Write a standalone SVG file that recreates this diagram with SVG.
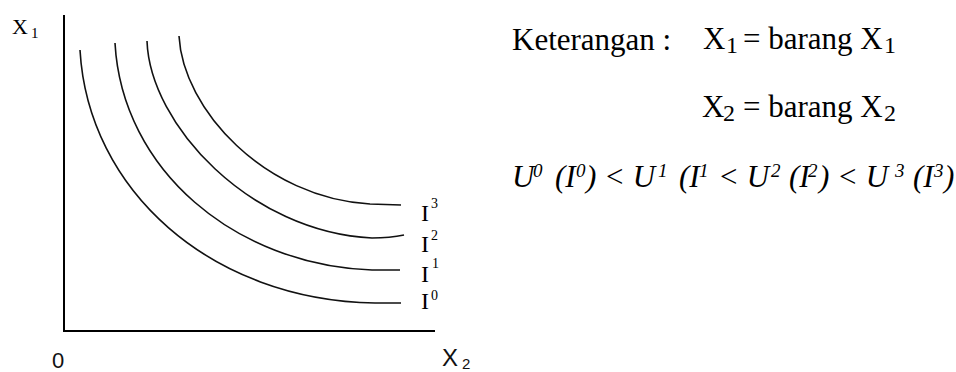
<svg xmlns="http://www.w3.org/2000/svg" width="956" height="372" viewBox="0 0 956 372">
<style>
.ax{stroke:#000;stroke-width:2;fill:none}
.cv{stroke:#111;stroke-width:1.6;fill:none}
.serif{font-family:"Liberation Serif","Times New Roman",serif;fill:#000}
.sans{font-family:"Liberation Sans",Arial,sans-serif;fill:#111}
.lbl{font-size:24px}
.sup{font-size:14px}
.big{font-size:31px}
.sub{font-size:24px}
.it{font-style:italic}
.fs{font-size:19px}
</style>
<rect width="956" height="372" fill="#fff"/>
<g id="axes">
<line class="ax" x1="64" y1="15" x2="64" y2="332"/>
<line class="ax" x1="63" y1="331" x2="435" y2="331"/>
<text class="serif" x="12" y="34" font-size="22">X<tspan font-size="15" x="31" y="38">1</tspan></text>
<text class="sans" x="52" y="368" font-size="22">0</text>
<text class="sans" x="442" y="366" font-size="24">X<tspan font-size="15" x="462" y="369">2</tspan></text>
</g>
<g id="curves">
<g id="I0"><path class="cv" d="M80,50 C88,190 210,300 375,303 L401,303"/>
<text class="serif lbl" x="421" y="309">I<tspan class="sup" x="431" y="300">0</tspan></text></g>
<g id="I1"><path class="cv" d="M115,43 C122,170 235,265 372,270 L400,270"/>
<text class="serif lbl" x="421" y="282">I<tspan class="sup" x="432" y="268">1</tspan></text></g>
<g id="I2"><path class="cv" d="M147,41 C150,125 250,232 372,238 Q390,238 404,235"/>
<text class="serif lbl" x="421" y="252">I<tspan class="sup" x="431" y="240">2</tspan></text></g>
<g id="I3"><path class="cv" d="M179,36 C183,110 265,198 370,204 L401,205"/>
<text class="serif lbl" x="421" y="221">I<tspan class="sup" x="431" y="208">3</tspan></text></g>
</g>
<g id="legend">
<text class="serif big" x="512" y="50">Keterangan :</text>
<text class="serif big" x="703" y="49">X<tspan class="sub" x="726" y="53">1</tspan><tspan x="743" y="49">= barang X</tspan><tspan class="sub" x="884" y="53">1</tspan></text>
<text class="serif big" x="702" y="117">X<tspan class="sub" x="723" y="121">2</tspan><tspan x="743" y="117">= barang X</tspan><tspan class="sub" x="884" y="121">2</tspan></text>
<text class="serif big it" y="187"><tspan x="512">U</tspan><tspan class="fs" x="533" y="177">0</tspan><tspan x="555" y="187">(I</tspan><tspan class="fs" x="576" y="177">0</tspan><tspan x="586" y="187">) &lt; U</tspan><tspan class="fs" x="658" y="177">1</tspan><tspan x="679" y="187">(I</tspan><tspan class="fs" x="699" y="177">1</tspan><tspan x="718" y="187">&lt; U</tspan><tspan class="fs" x="771" y="177">2</tspan><tspan x="789" y="187">(I</tspan><tspan class="fs" x="808" y="177">2</tspan><tspan x="819" y="187">) &lt; U</tspan><tspan class="fs" x="895" y="177">3</tspan><tspan x="913" y="187">(I</tspan><tspan class="fs" x="934" y="177">3</tspan><tspan x="944" y="187">)</tspan></text>
</g>
</svg>
